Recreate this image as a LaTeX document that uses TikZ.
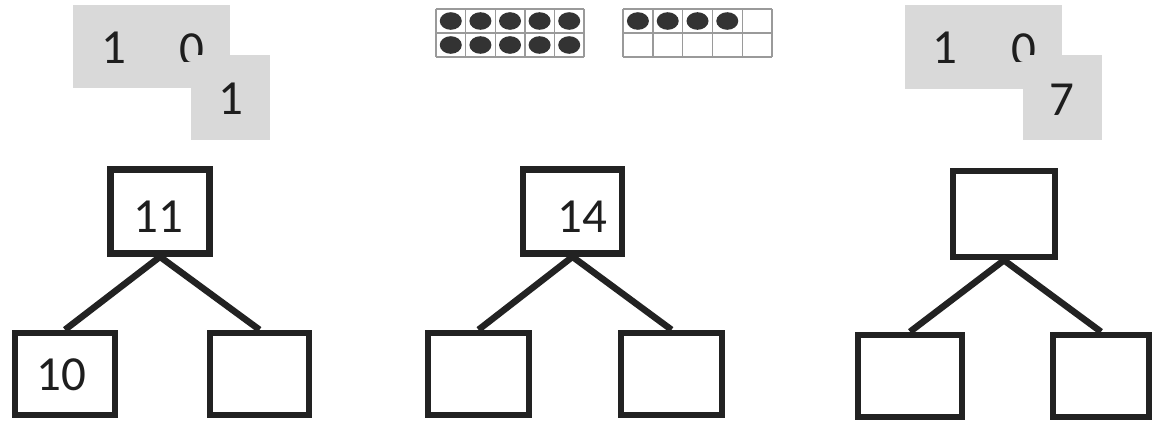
\documentclass[tikz,border=0pt]{standalone}
\usepackage{fontspec}
\setmainfont{Carlito}
\definecolor{boxc}{HTML}{222222}
\definecolor{txtc}{HTML}{1E1E1E}
\definecolor{cardc}{HTML}{D9D9D9}
\definecolor{gridc}{HTML}{9A9A9A}
\definecolor{dotc}{HTML}{333333}
\begin{document}
\begin{tikzpicture}[x=1pt,y=-1pt,
  tbox/.style={draw=boxc, line width=6.5pt, rectangle, inner sep=0pt},
  conn/.style={draw=boxc, line width=6.5pt},
  dig/.style={font=\fontsize{49}{51}\selectfont, inner sep=0pt, anchor=base, text=txtc},
  card/.style={fill=cardc},
  grid/.style={draw=gridc, line width=1.4pt},
  dot/.style={fill=dotc}]
\useasboundingbox (0,0) rectangle (1152,424);
\fill[white] (0,0) rectangle (1152,424);

% ---- left cards
\fill[card] (73,5) rectangle (230,88);
\begin{scope}
  \clip (150,0) rectangle (240,61);
  \node[dig] (l0) at (191.5,65) {0};
\end{scope}
\fill[card] (191,55) rectangle (270,140);
\node[dig] (l1) at (113.5,63) {1};
\node[dig] (ls1) at (231,114) {1};

% ---- right cards
\fill[card] (905,5) rectangle (1062,89);
\begin{scope}
  \clip (980,0) rectangle (1070,61);
  \node[dig] (r0) at (1023.5,65) {0};
\end{scope}
\fill[card] (1023,55) rectangle (1102,140);
\node[dig] (r1) at (945,63) {1};
\node[dig] (rs7) at (1061.5,115) {7};

% ---- ten frames
\foreach \i in {0,...,5} \draw[grid] (436+\i*29.6,9) -- ++(0,48);
\foreach \j in {0,1,2} \draw[grid] (436,9+\j*24) -- ++(148,0);
\foreach \i in {0,...,4} \foreach \j in {0,1}
  \fill[dot] (436+14.8+\i*29.6,21+\j*24) ellipse (11 and 8.8);
\foreach \i in {0,...,5} \draw[grid] (623+\i*29.8,9) -- ++(0,48);
\foreach \j in {0,1,2} \draw[grid] (623,9+\j*24) -- ++(149,0);
\foreach \i in {0,...,3}
  \fill[dot] (623+14.9+\i*29.8,21) ellipse (11 and 8.8);

% ---- tree 1
\node[tbox, minimum width=99pt, minimum height=84pt] (t1) at (160,211.5) {};
\node[tbox, minimum width=100pt, minimum height=82pt] (a1) at (65,374) {};
\node[tbox, minimum width=99pt, minimum height=82pt] (b1) at (259.5,374) {};
\draw[conn] (t1.south) -- (a1.north);
\draw[conn] (t1.south) -- (b1.north);
\node[dig] (n11) at (158.5,232) {11};
\node[dig] (n10) at (61,390) {10};

% ---- tree 2
\node[tbox, minimum width=99pt, minimum height=84pt] (t2) at (572.5,211.5) {};
\node[tbox, minimum width=101pt, minimum height=82pt] (a2) at (478.5,374) {};
\node[tbox, minimum width=101pt, minimum height=82pt] (b2) at (671.5,374) {};
\draw[conn] (t2.south) -- (a2.north);
\draw[conn] (t2.south) -- (b2.north);
\node[dig] (n14) at (582,232) {14};

% ---- tree 3
\node[tbox, minimum width=102pt, minimum height=86pt] (t3) at (1004,214) {};
\node[tbox, minimum width=104pt, minimum height=82pt] (a3) at (910,376) {};
\node[tbox, minimum width=96pt, minimum height=82pt] (b3) at (1101,376) {};
\draw[conn] (t3.south) -- (a3.north);
\draw[conn] (t3.south) -- (b3.north);
\end{tikzpicture}
\end{document}
